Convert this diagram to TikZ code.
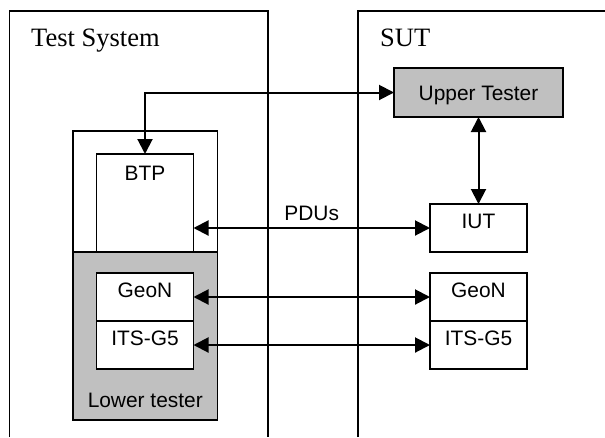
\documentclass[tikz,border=0pt]{standalone}
\usepackage{fontspec}
\setmainfont{Liberation Serif}
\setsansfont{Liberation Sans}
\usepackage{tikz}
\usetikzlibrary{arrows.meta,positioning}
\definecolor{testgray}{RGB}{192,192,192}
\tikzstyle{frame}=[line width=1.4pt]
\tikzstyle{title}=[anchor=base west, inner sep=0pt, font=\rmfamily\fontsize{26.5}{30}\selectfont]
\tikzstyle{layer}=[draw, fill=white, line width=1.5pt, outer sep=0pt, minimum width=97pt, minimum height=48pt, text height=15pt, text depth=15pt]
\tikzstyle{tester}=[draw, fill=testgray, line width=1.5pt, outer sep=0pt]
\tikzstyle{wire}=[line width=2pt]

\begin{document}
\begin{tikzpicture}[x=1pt,y=-1pt,>={Triangle[length=15pt,width=15pt]},font=\sffamily\fontsize{20.9}{25}\selectfont]
    \useasboundingbox (0,0) rectangle (605,437);
    % system frames
    \draw[frame] (9.5,437) |- (268,11) -- (268,437);
    \draw[frame] (358,437) |- (605,11);
    \node[title] (tsys) at (31,46) {Test System};
    \node[title] (sut) at (380,46) {SUT};
    % SUT side
    \node [tester, minimum width=169pt, minimum height=49pt, text height=15pt, text depth=0pt] (ut) at (478.5,92.5) {Upper Tester};
    \node [layer] (iut) [below of=ut, node distance=135.5pt] {IUT};
    \node [layer] (geonR) [below of=iut, node distance=69pt] {GeoN};
    \node [layer] (itsR) [below=0pt of geonR] {ITS-G5};
    % test system side
    \node [draw, fill=white, line width=1.5pt, outer sep=0pt, minimum width=144.5pt, minimum height=289pt] (stack) at (145.25,275.5) {};
    \node [layer, minimum height=98pt, text depth=60pt] (btp) at (145,203) {BTP};
    \node [tester, minimum width=144.5pt, minimum height=168pt, text height=143pt, text depth=0pt] (lower) at (145.25,336) {Lower tester};
    \node [layer] (geonL) at (btp |- geonR) {GeoN};
    \node [layer] (itsL) [below=0pt of geonL] {ITS-G5};
    % connectors
    \path[wire,<->]
    (ut.west) edge[to path={-| (\tikztotarget)}] (btp.north)
    (ut) edge (iut)
    (btp.east |- iut.west) edge node[above=2.5pt] {PDUs} (iut)
    (geonL) edge (geonR)
    (itsL) edge (itsR);
\end{tikzpicture}
\end{document}
